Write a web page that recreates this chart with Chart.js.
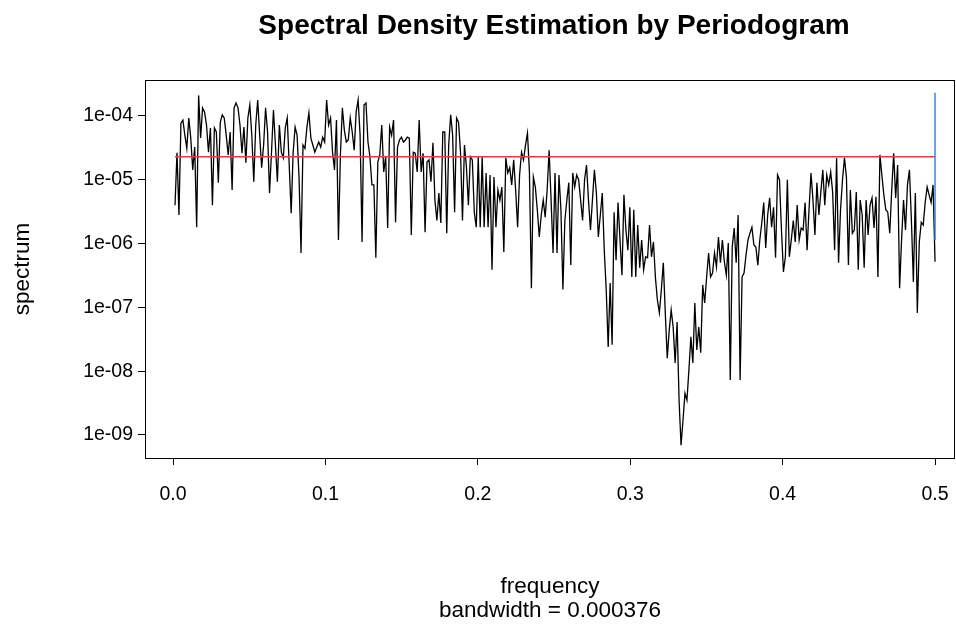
<!DOCTYPE html>
<html>
<head>
<meta charset="utf-8">
<script src="https://cdn.jsdelivr.net/npm/chart.js@4.4.0/dist/chart.umd.min.js"></script>
<style>
  html, body { margin: 0; padding: 0; background: #fff; }
  #wrap { width: 956px; height: 626px; }
</style>
</head>
<body>
<div id="wrap"><canvas id="chart" width="956" height="626"></canvas></div>
<script>
// periodogram values (low to high frequency)
const spectrum = [
  4.0e-6, 2.65e-5, 2.8e-6, 7.7e-5, 8.6e-5, 5.0e-5, 3.1e-5, 9.3e-5, 4.5e-5, 1.43e-5, 3.25e-5, 1.8e-6, 2.1e-4, 4.5e-5, 1.34e-4, 1.16e-4, 7.2e-5, 2.7e-5, 6.5e-5, 4.0e-6, 6.5e-5, 5.6e-5, 9.0e-6, 8.0e-5, 1.04e-4, 9.3e-5, 5.0e-5, 2.45e-5, 5.6e-5, 6.9e-6, 1.34e-4, 1.6e-4, 1.34e-4, 7.2e-5, 2.6e-5, 6.7e-5, 1.85e-5, 9.3e-5,
  1.49e-4, 5.0e-5, 9.3e-6, 7.2e-5, 1.78e-4, 5.0e-5, 1.55e-5, 3.5e-5, 1.34e-4, 5.6e-5, 6.2e-6, 2.7e-5, 1.24e-4, 3.5e-5, 9.3e-6, 7.2e-5, 2.7e-5, 2.2e-5, 6.5e-5, 9.3e-5, 1.7e-5, 3.0e-6, 2.7e-5, 6.7e-5, 5.0e-5, 1.07e-5, 7.1e-7, 3.5e-5, 3.1e-5, 6.7e-5, 1.12e-4, 4.5e-5, 3.5e-5, 2.7e-5, 3.25e-5, 3.9e-5, 3.25e-5, 4.65e-5, 3.9e-5,
  1.78e-4, 7.2e-5, 9.3e-5, 2.7e-5, 1.43e-5, 8.6e-5, 1.14e-6, 2.45e-5, 1.34e-4, 6.0e-5, 3.9e-5, 4.2e-5, 9.3e-5, 5.6e-5, 2.9e-5, 1.16e-4, 1.78e-4, 5.0e-5, 1.06e-6, 1.49e-4, 1.6e-4, 3.9e-5, 2.3e-5, 8.3e-6, 8.3e-6, 6.0e-7, 1.9e-5, 2.45e-5, 7.2e-5, 1.33e-5, 2.3e-5, 1.75e-6, 6.7e-5, 5.0e-5, 8.6e-5, 2.15e-6, 3.25e-5, 4.2e-5, 4.65e-5,
  3.9e-5, 4.2e-5, 4.65e-5, 4.5e-5, 1.36e-6, 2.7e-5, 2.6e-5, 1.33e-5, 8.6e-5, 1.33e-5, 2.6e-5, 1.5e-6, 1.9e-5, 2.05e-5, 9.3e-6, 3.8e-5, 4.8e-6, 2.3e-6, 6.2e-6, 2.1e-6, 5.6e-5, 5.6e-5, 1.45e-6, 3.5e-5, 1.04e-4, 5.0e-5, 3.1e-6, 9.3e-5, 8.0e-5, 2.7e-5, 2.3e-6, 3.5e-5, 1.6e-5, 4.0e-6, 2.3e-5, 2.05e-5, 3.1e-6, 1.8e-6, 2.3e-5,
  1.8e-6, 2.3e-5, 1.8e-6, 1.28e-5, 1.8e-6, 1.19e-5, 3.9e-7, 1.1e-5, 1.8e-6, 6.9e-6, 4.8e-6, 7.7e-6, 7.4e-7, 2.2e-5, 1.28e-5, 1.55e-5, 8.3e-6, 2.05e-5, 6.9e-6, 1.8e-6, 1.19e-5, 2.7e-5, 2.05e-5, 3.5e-5, 5.4e-5, 1.33e-5, 2.0e-7, 1.1e-5, 7.7e-6, 3.4e-6, 1.27e-6, 2.8e-6, 4.8e-6, 2.6e-6, 6.9e-6, 2.9e-5, 4.8e-6, 7.1e-7, 1.28e-5,
  7.1e-7, 1.19e-5, 3.4e-6, 1.9e-7, 2.3e-6, 4.8e-6, 9.0e-6, 4.6e-7, 1.28e-5, 7.7e-6, 1.19e-5, 1.0e-5, 4.8e-6, 2.3e-6, 1.0e-5, 1.7e-5, 4.8e-6, 1.63e-6, 4.8e-6, 1.43e-5, 6.2e-6, 1.27e-6, 2.8e-6, 6.2e-6, 7.9e-7, 1.9e-7, 2.4e-8, 2.4e-7, 2.6e-8, 3.1e-6, 5.5e-7, 4.4e-6, 1.14e-6, 3.2e-7, 5.8e-6, 1.63e-6, 7.9e-7, 3.7e-6, 3.0e-7,
  3.4e-6, 3.0e-7, 1.95e-6, 4.2e-7, 1.14e-6, 3.9e-7, 6.2e-7, 6.0e-7, 1.95e-6, 6.2e-7, 1.06e-6, 2.9e-7, 1.3e-7, 8.2e-8, 1.9e-7, 5.0e-7, 8.2e-8, 1.6e-8, 4.4e-8, 9.1e-8, 4.9e-8, 1.35e-8, 5.9e-8, 3.5e-9, 6.9e-10, 1.7e-9, 4.5e-9, 3.5e-9, 1.05e-8, 3.45e-8, 1.35e-8, 1.17e-7, 2.15e-8, 4.9e-8, 1.95e-8, 2.25e-7, 1.17e-7, 3.0e-7, 7.1e-7,
  3.0e-7, 3.45e-7, 7.1e-7, 4.3e-7, 1.27e-6, 5.0e-7, 1.14e-6, 5.2e-7, 3.2e-7, 1.02e-6, 7.3e-9, 8.8e-7, 1.75e-6, 5.0e-7, 2.8e-6, 7.3e-9, 3.0e-7, 3.45e-7, 6.6e-7, 1.14e-6, 1.45e-6, 1.8e-6, 9.5e-7, 8.8e-7, 4.6e-7, 1.14e-6, 2.1e-6, 4.4e-6, 8.5e-7, 2.8e-6, 5.2e-6, 1.8e-6, 3.7e-6, 6.0e-7, 1.19e-5, 1.0e-5, 1.63e-6, 3.6e-7, 6.2e-7,
  1.0e-5, 6.2e-7, 1.14e-6, 2.3e-6, 1.06e-6, 4.0e-6, 1.14e-6, 1.75e-6, 1.63e-6, 4.4e-6, 7.9e-7, 3.4e-6, 1.28e-5, 4.8e-6, 1.36e-6, 9.0e-6, 2.8e-6, 6.4e-6, 1.43e-5, 4.0e-6, 1.19e-5, 8.3e-6, 1.33e-5, 6.4e-6, 7.9e-7, 2.2e-5, 5.0e-7, 3.4e-6, 1.0e-5, 2.2e-5, 1.1e-5, 4.6e-7, 6.9e-6, 1.45e-6, 1.63e-6, 6.4e-6, 3.9e-7, 4.8e-6, 2.8e-6,
  4.2e-7, 4.8e-6, 1.36e-6, 4.0e-6, 5.2e-6, 1.75e-6, 5.4e-6, 3.0e-7, 2.45e-5, 1.19e-5, 5.8e-6, 3.4e-6, 3.1e-6, 1.45e-6, 6.9e-6, 2.6e-5, 5.2e-6, 1.7e-5, 2.0e-7, 1.14e-6, 4.8e-6, 1.63e-6, 8.3e-6, 1.43e-5, 2.3e-6, 2.5e-7, 6.2e-6, 8.2e-8, 1.06e-6, 2.15e-6, 1.95e-6, 4.4e-6, 7.7e-6, 5.8e-6, 4.4e-6, 8.3e-6, 5.2e-7
];
// frequencies: evenly spaced Fourier frequencies up to 0.5
const freq = spectrum.map((_, i) => 0.5 * (i + 1) / spectrum.length);

const meanLevel = 2.3e-5;          // red horizontal line
const ciBar = [2.3e-4, 1.14e-6];   // blue bar at f = 0.5

const xTickValues = [0, 0.1, 0.2, 0.3, 0.4, 0.5];
const xTickLabels = ['0.0', '0.1', '0.2', '0.3', '0.4', '0.5'];
const yTickValues = [1e-9, 1e-8, 1e-7, 1e-6, 1e-5, 1e-4];
const yTickLabels = ['1e-09', '1e-08', '1e-07', '1e-06', '1e-05', '1e-04'];

const FONT = "'Liberation Sans', Arial, Helvetica, sans-serif";
const tickFont = { family: FONT, size: 19.5 };
const labelFont = { family: FONT, size: 22.5, lineHeight: 1.07 };

// box round the plot + main title
const boxPlugin = {
  id: 'box',
  afterDraw(chart) {
    const { ctx, chartArea: a } = chart;
    ctx.save();
    ctx.strokeStyle = '#000';
    ctx.lineWidth = 1;
    ctx.strokeRect(a.left + 0.5, a.top + 0.5, a.right - a.left - 1, a.bottom - a.top);
    ctx.fillStyle = '#000';
    ctx.font = 'bold 28px ' + FONT;
    ctx.textAlign = 'center';
    ctx.textBaseline = 'middle';
    ctx.fillText('Spectral Density Estimation by Periodogram', (a.left + a.right) / 2 + 4, 26);
    ctx.restore();
  }
};

new Chart(document.getElementById('chart').getContext('2d'), {
  type: 'line',
  data: {
    datasets: [
      {
        data: [{ x: 0.5, y: ciBar[0] }, { x: 0.5, y: ciBar[1] }],
        borderColor: '#2d7cf5',
        borderWidth: 1.4,
        pointRadius: 0
      },
      {
        data: [{ x: freq[0], y: meanLevel }, { x: 0.5, y: meanLevel }],
        borderColor: '#f23a3a',
        borderWidth: 1.4,
        pointRadius: 0
      },
      {
        data: freq.map((f, i) => ({ x: f, y: spectrum[i] })),
        borderColor: '#000',
        borderWidth: 1.3,
        pointRadius: 0,
        tension: 0
      }
    ]
  },
  options: {
    responsive: false,
    animation: false,
    devicePixelRatio: 1,
    layout: { padding: { top: 80, right: 1, bottom: 0, left: 0 } },
    plugins: { legend: { display: false }, tooltip: { enabled: false }, title: { display: false } },
    scales: {
      x: {
        type: 'linear',
        min: -0.0184,
        max: 0.5131,
        afterBuildTicks: s => { s.ticks = xTickValues.map(v => ({ value: v })); },
        afterFit: s => { s.height = 168; s.paddingLeft = 0; s.paddingRight = 0; },
        ticks: {
          autoSkip: false,
          maxRotation: 0,
          padding: 18,
          color: '#000',
          font: tickFont,
          callback: v => xTickLabels[xTickValues.indexOf(v)]
        },
        grid: { drawOnChartArea: false, drawTicks: true, tickLength: 7, color: '#000' },
        border: { display: false },
        title: {
          display: true,
          text: ['frequency', 'bandwidth = 0.000376'],
          color: '#000',
          font: labelFont,
          padding: { top: 0, bottom: 3 }
        }
      },
      y: {
        type: 'logarithmic',
        min: 4.36e-10,
        max: 3.66e-4,
        afterBuildTicks: s => { s.ticks = yTickValues.map(v => ({ value: v })); },
        afterFit: s => { s.width = 145; s.paddingTop = 0; s.paddingBottom = 0; },
        ticks: {
          autoSkip: false,
          padding: 5,
          color: '#000',
          font: tickFont,
          callback: v => yTickLabels[yTickValues.indexOf(v)]
        },
        grid: { drawOnChartArea: false, drawTicks: true, tickLength: 7, color: '#000' },
        border: { display: false },
        title: {
          display: true,
          text: 'spectrum',
          color: '#000',
          font: labelFont,
          padding: { top: 11, bottom: 0 }
        }
      }
    }
  },
  plugins: [boxPlugin]
});
</script>
</body>
</html>
